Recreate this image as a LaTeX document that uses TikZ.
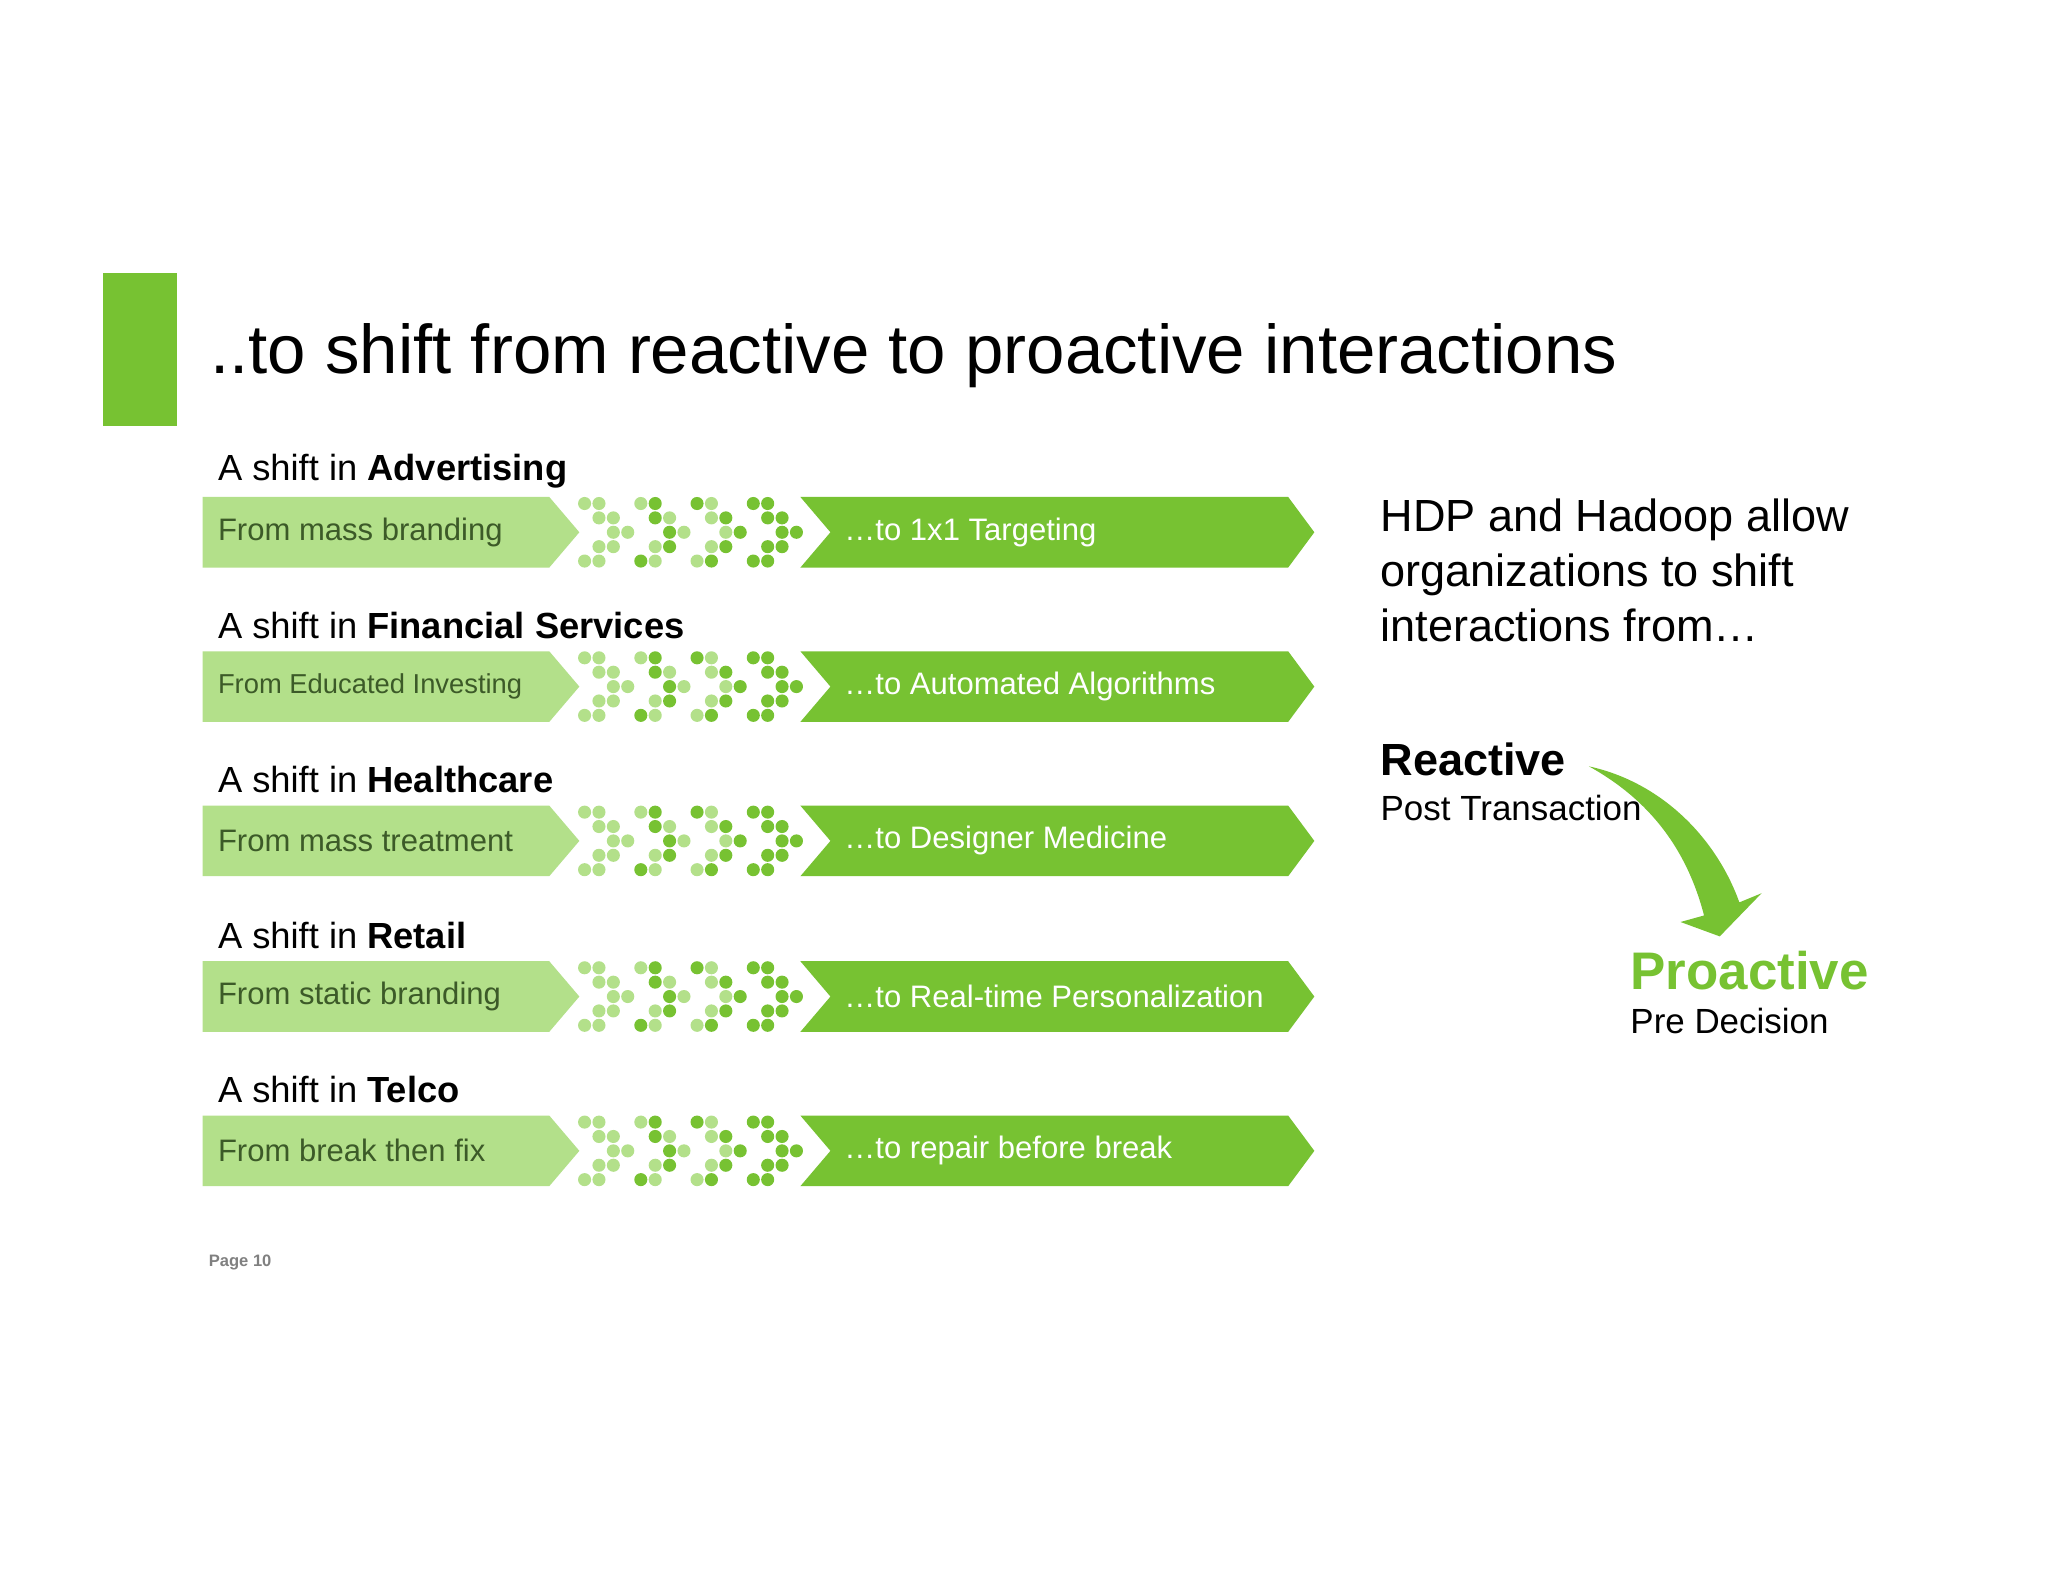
\documentclass[tikz,border=0pt]{standalone}
\usepackage{fontspec}
\setmainfont{Liberation Sans}
\definecolor{lg}{HTML}{B3E08A}
\definecolor{dg}{HTML}{77C232}
\definecolor{tg}{HTML}{3C5A28}
\begin{document}
\begin{tikzpicture}[x=0.01cm,y=-0.01cm,
  hdr/.style={anchor=west,inner sep=0,font=\fontsize{7.9pt}{9pt}\selectfont},
  frm/.style={anchor=west,inner sep=0,text=tg,font=\fontsize{6.75pt}{8pt}\selectfont},
  tot/.style={anchor=west,inner sep=0,text=white,font=\fontsize{6.75pt}{8pt}\selectfont},
  dotL/.style={fill=lg},dotD/.style={fill=dg}]
\useasboundingbox[fill=white] (0,0) rectangle (1566,1209);
\fill[dg] (79,209) rectangle (135,326);
\node[anchor=west,inner sep=0,font=\fontsize{15pt}{16pt}\selectfont] (title) at (160,272) {..to shift from reactive to proactive interactions};
\foreach \y/\h/\a/\b [count=\i] in {407/Advertising/From mass branding/\dots to 1x1 Targeting,
  525/Financial Services/{\fontsize{5.95pt}{7pt}\selectfont From Educated Investing}/\dots to Automated Algorithms,
  643/Healthcare/From mass treatment/\dots to Designer Medicine,
  762/Retail/From static branding/\dots to Real-time Personalization,
  880/Telco/From break then fix/\dots to repair before break}{
  \node[hdr] (h\i) at (166,\y-47) {A shift in \textbf{\h}};
  \fill[lg] (155,\y-27) -- (420,\y-27) -- (443,\y) -- (420,\y+27) -- (155,\y+27) -- cycle;
  \fill[dg] (612,\y-27) -- (985,\y-27) -- (1005,\y) -- (985,\y+27) -- (612,\y+27) -- (635,\y) -- cycle;
  \node[frm] (f\i) at (166,\y) {\a};
  \node[tot] (t\i) at (645,\y) {\b};
  \foreach \cx/\cl in {0/{L,L,L,L,L,L,L,L,L,L},1/{L,D,D,L,D,L,L,D,D,L},2/{D,L,L,D,L,D,L,D,L,D},3/{D,D,D,D,D,D,D,D,D,D}}{
    \foreach \r/\c [count=\k] in {0/0,0/1,1/1,1/2,2/2,2/3,3/1,3/2,4/0,4/1}{
      \foreach \cc [count=\m] in \cl {
        \ifnum\m=\k\relax
          \fill[dot\cc] (447+43*\cx+11*\c,\y-22+11*\r) circle (5);
        \fi}
    }}
}
\node[anchor=north west,inner sep=0,align=left,font=\fontsize{9.8pt}{11.9pt}\selectfont] (hdp) at (1055,381) {HDP and Hadoop allow\\organizations to shift\\interactions from\dots};
\node[anchor=west,inner sep=0,font=\bfseries\fontsize{9.8pt}{11pt}\selectfont] (rea) at (1055,581) {Reactive};
\node[anchor=west,inner sep=0,font=\fontsize{7.6pt}{9pt}\selectfont] (post) at (1055,618) {Post Transaction};
\node[anchor=west,inner sep=0,text=dg,font=\bfseries\fontsize{11.5pt}{13pt}\selectfont] (pro) at (1246,742) {Proactive};
\node[anchor=west,inner sep=0,font=\fontsize{7.6pt}{9pt}\selectfont] (pre) at (1246,781) {Pre Decision};
\fill[dg] (1215,586) .. controls (1270,598) and (1312,640) .. (1330,690) -- (1347,683) -- (1315,716) -- (1285,705) -- (1303,700) .. controls (1290,650) and (1262,612) .. (1215,586) -- cycle;
\node[anchor=west,inner sep=0,text=gray,font=\bfseries\fontsize{3.6pt}{4pt}\selectfont] (pg) at (159,965) {Page 10};
\end{tikzpicture}
\end{document}
